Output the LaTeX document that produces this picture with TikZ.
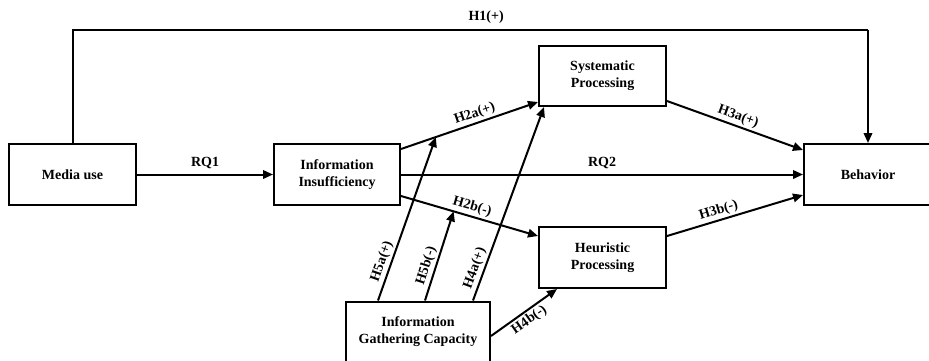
\documentclass[tikz,border=0pt]{standalone}
\usepackage{fontspec}
\setmainfont{Liberation Serif}
\usetikzlibrary{arrows.meta,calc}
\begin{document}
\begin{tikzpicture}[x=1pt,y=-1pt,
  box/.style={draw,line width=2pt,rectangle,align=center,inner sep=0pt,
    font=\fontsize{14}{17}\selectfont\bfseries},
  conn/.style={line width=2pt,-{Triangle[length=10pt,width=8.5pt]}},
  plain/.style={line width=2pt},
  lab/.style={font=\fontsize{14}{17}\selectfont\bfseries,inner sep=2pt}]
\useasboundingbox (0,0) rectangle (929,360);
\node[box,minimum width=127pt,minimum height=61pt] (mu) at (72.5,174.5) {Media use};
\node[box,minimum width=126pt,minimum height=61pt] (ii) at (337,174.5) {Information\\Insufficiency};
\node[box,minimum width=127pt,minimum height=60pt] (sys) at (602.5,76) {Systematic\\Processing};
\node[box,minimum width=127pt,minimum height=61pt] (heur) at (602.5,257.5) {Heuristic\\Processing};
\node[box,minimum width=128pt,minimum height=61pt] (beh) at (868,174.5) {Behavior};
\node[box,minimum width=144pt,minimum height=61pt] (igc) at (418,332) {Information\\Gathering Capacity};
% H1
\coordinate (h1b) at (868,30);
\draw[plain] (mu.north) |- (h1b) node[lab,pos=0.76,above=4pt] {H1(+)};
\draw[conn] (h1b) -- (beh.north);
% RQ1, RQ2
\draw[conn] (mu.east) -- node[lab,above=3pt] {RQ1} (ii.west);
\draw[conn] (ii.east) -- node[lab,above=3pt,pos=0.5] {RQ2} (beh.west);
% H2a, H2b
\draw[conn] ([yshift=-6pt]ii.north east) -- node[lab,sloped,above,pos=0.56] {H2a(+)} coordinate[pos=0.254] (h2am) ([yshift=5pt]sys.south west);
\draw[conn] ([yshift=10pt]ii.south east) -- node[lab,sloped,above,pos=0.5] {H2b(-)} coordinate[pos=0.384] (h2bm) ([yshift=-10pt]heur.north west);
% H3a, H3b
\draw[conn] ([yshift=6pt]sys.south east) -- node[lab,sloped,above,pos=0.5] {H3a(+)} ([yshift=-7pt]beh.north west);
\draw[conn] ([yshift=-10pt]heur.north east) -- node[lab,sloped,above,pos=0.4] {H3b(-)} ([yshift=11pt]beh.south west);
% H5a, H5b, H4a, H4b
\draw[conn] ([xshift=33pt]igc.north west) -- node[lab,sloped,above,pos=0.22] {H5a(+)} (h2am);
\draw[conn] ([xshift=80pt]igc.north west) -- node[lab,sloped,above,pos=0.36] {H5b(-)} (h2bm);
\draw[conn] ([xshift=128pt]igc.north west) -- node[lab,sloped,above,pos=0.15] {H4a(+)} ([xshift=6pt]sys.south west);
\draw[conn] ([yshift=-4pt]igc.east) -- node[lab,sloped,below,pos=0.5] {H4b(-)} ([xshift=19pt]heur.south west);
\end{tikzpicture}
\end{document}
